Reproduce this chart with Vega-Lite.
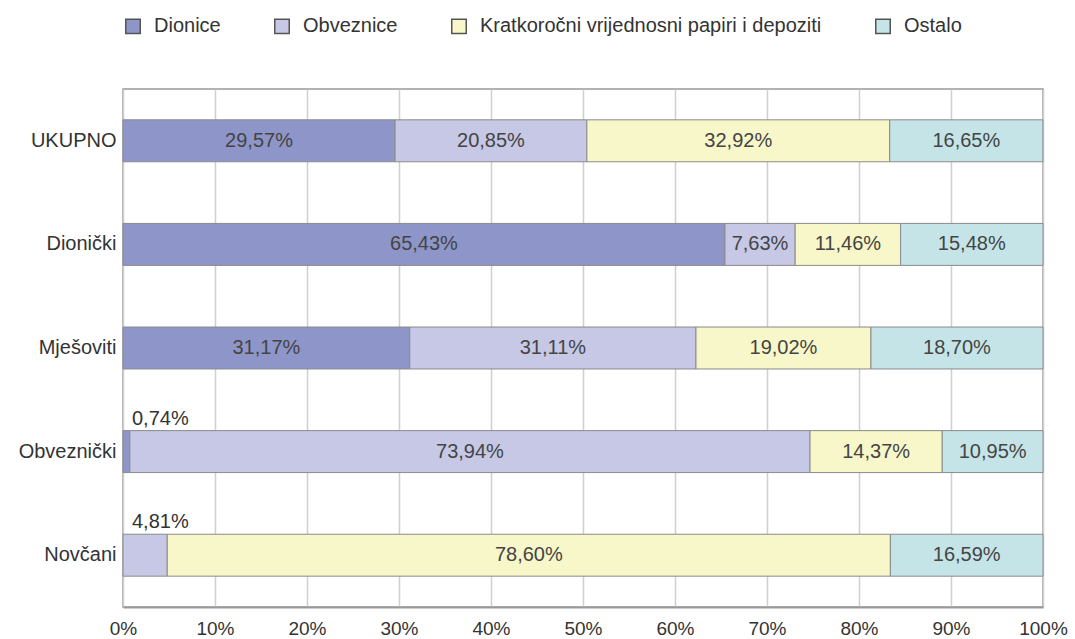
{
  "$schema": "https://vega.github.io/schema/vega-lite/v6.json",
  "width": 920,
  "height": 518,
  "autosize": {"type": "none"},
  "padding": {"left": 123, "top": 89, "right": 32, "bottom": 32},
  "background": "white",
  "data": {
    "values": [
      {"fond": "UKUPNO", "vrsta": "Dionice", "ord": 1, "v": 29.57},
      {"fond": "UKUPNO", "vrsta": "Obveznice", "ord": 2, "v": 20.85},
      {"fond": "UKUPNO", "vrsta": "Kratkoročni vrijednosni papiri i depoziti", "ord": 3, "v": 32.92},
      {"fond": "UKUPNO", "vrsta": "Ostalo", "ord": 4, "v": 16.65},
      {"fond": "Dionički", "vrsta": "Dionice", "ord": 1, "v": 65.43},
      {"fond": "Dionički", "vrsta": "Obveznice", "ord": 2, "v": 7.63},
      {"fond": "Dionički", "vrsta": "Kratkoročni vrijednosni papiri i depoziti", "ord": 3, "v": 11.46},
      {"fond": "Dionički", "vrsta": "Ostalo", "ord": 4, "v": 15.48},
      {"fond": "Mješoviti", "vrsta": "Dionice", "ord": 1, "v": 31.17},
      {"fond": "Mješoviti", "vrsta": "Obveznice", "ord": 2, "v": 31.11},
      {"fond": "Mješoviti", "vrsta": "Kratkoročni vrijednosni papiri i depoziti", "ord": 3, "v": 19.02},
      {"fond": "Mješoviti", "vrsta": "Ostalo", "ord": 4, "v": 18.70},
      {"fond": "Obveznički", "vrsta": "Dionice", "ord": 1, "v": 0.74},
      {"fond": "Obveznički", "vrsta": "Obveznice", "ord": 2, "v": 73.94},
      {"fond": "Obveznički", "vrsta": "Kratkoročni vrijednosni papiri i depoziti", "ord": 3, "v": 14.37},
      {"fond": "Obveznički", "vrsta": "Ostalo", "ord": 4, "v": 10.95},
      {"fond": "Novčani", "vrsta": "Obveznice", "ord": 2, "v": 4.81},
      {"fond": "Novčani", "vrsta": "Kratkoročni vrijednosni papiri i depoziti", "ord": 3, "v": 78.60},
      {"fond": "Novčani", "vrsta": "Ostalo", "ord": 4, "v": 16.59}
    ]
  },
  "transform": [
    {"stack": "v", "groupby": ["fond"], "sort": [{"field": "ord", "order": "ascending"}], "as": ["x0", "x1"]},
    {"calculate": "(datum.x0 + datum.x1) / 2", "as": "xm"},
    {"calculate": "replace(format(datum.v, '.2f'), '.', ',') + '%'", "as": "lbl"}
  ],
  "encoding": {
    "y": {
      "field": "fond",
      "type": "nominal",
      "sort": ["UKUPNO", "Dionički", "Mješoviti", "Obveznički", "Novčani"],
      "scale": {"paddingInner": 0.595, "paddingOuter": 0.2975},
      "axis": {
        "title": null,
        "domain": false,
        "ticks": false,
        "labelFont": "Liberation Sans",
        "labelFontSize": 20,
        "labelColor": "#333333",
        "labelPadding": 7
      }
    }
  },
  "layer": [
    {
      "mark": {"type": "bar", "stroke": "#8a8a8a", "strokeWidth": 1},
      "encoding": {
        "x": {
          "field": "x0",
          "type": "quantitative",
          "scale": {"domain": [0, 100], "nice": false},
          "axis": {
            "title": null,
            "values": [0, 10, 20, 30, 40, 50, 60, 70, 80, 90, 100],
            "labelExpr": "datum.value + '%'",
            "grid": true,
            "gridColor": "#cfcfcf",
            "gridWidth": 1.5,
            "domainColor": "#999999",
            "domainWidth": 2,
            "ticks": false,
            "labelFont": "Liberation Sans",
            "labelFontSize": 19,
            "labelColor": "#333333",
            "labelPadding": 12,
            "labelFlush": false
          }
        },
        "x2": {"field": "x1"},
        "color": {
          "field": "vrsta",
          "type": "nominal",
          "sort": ["Dionice", "Obveznice", "Kratkoročni vrijednosni papiri i depoziti", "Ostalo"],
          "scale": {
            "domain": ["Dionice", "Obveznice", "Kratkoročni vrijednosni papiri i depoziti", "Ostalo"],
            "range": ["#8e96c9", "#c6c8e5", "#f7f7c9", "#c4e4e7"]
          },
          "legend": {
            "title": null,
            "orient": "none",
            "direction": "horizontal",
            "legendX": 0,
            "legendY": -73,
            "symbolType": "square",
            "symbolSize": 210,
            "symbolStrokeColor": "#555555",
            "symbolStrokeWidth": 1.5,
            "labelFont": "Liberation Sans",
            "labelFontSize": 20,
            "labelColor": "#333333",
            "labelLimit": 0,
            "columnPadding": 50,
            "labelOffset": 11
          }
        }
      }
    },
    {
      "transform": [{"filter": "datum.v >= 6"}],
      "mark": {"type": "text", "font": "Liberation Sans", "fontSize": 20, "color": "#444444", "align": "center", "baseline": "middle"},
      "encoding": {
        "x": {"field": "xm", "type": "quantitative"},
        "text": {"field": "lbl"}
      }
    },
    {
      "transform": [{"filter": "datum.v < 6"}],
      "mark": {"type": "text", "font": "Liberation Sans", "fontSize": 20, "color": "#333333", "align": "left", "baseline": "middle", "dx": 9, "dy": -33},
      "encoding": {
        "x": {"datum": 0, "type": "quantitative"},
        "text": {"field": "lbl"}
      }
    }
  ],
  "config": {
    "view": {"stroke": "#999999", "strokeWidth": 1.5}
  }
}
